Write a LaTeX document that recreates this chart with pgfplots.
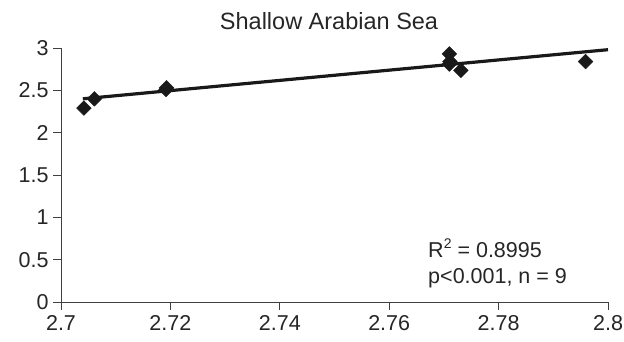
\documentclass[border=0pt]{standalone}
\usepackage{fontspec}
\setmainfont{Liberation Sans}
\usepackage{pgfplots}
\pgfplotsset{compat=1.18}
\begin{document}
\begin{tikzpicture}[x=1bp,y=1bp]
\useasboundingbox (0,0) rectangle (624,341);
\begin{axis}[
  at={(61bp,39bp)}, anchor=south west,
  scale only axis, width=547bp, height=254bp,
  xmin=2.7, xmax=2.8, ymin=0, ymax=3,
  axis lines*=left,
  axis line style={line width=0.9bp, black!75},
  xtick={2.7,2.72,2.74,2.76,2.78,2.8},
  ytick={0,0.5,1,1.5,2,2.5,3},
  tick align=outside,
  major tick length=8bp,
  tick style={black!75, line width=0.9bp},
  tick label style={font=\fontsize{21.5bp}{24bp}\selectfont, text=black!85},
  /pgf/number format/assume math mode=true,
  xticklabel style={/pgf/number format/fixed, /pgf/number format/precision=2, yshift=-2bp},
  yticklabel style={/pgf/number format/fixed, /pgf/number format/precision=1, xshift=-1bp},
  title={Shallow Arabian Sea},
  title style={font=\fontsize{23.5bp}{26bp}\selectfont, text=black!85, at={(0.49,1)}, yshift=9bp},
  clip=false,
]
\addplot[only marks, mark=square*, mark size=5.2bp, mark options={rotate=45, fill=black!90, draw=black!90}, color=black!90]
coordinates {
(2.7042,2.29)
(2.7061,2.40)
(2.7193,2.53)
(2.7192,2.51)
(2.7710,2.93)
(2.7710,2.81)
(2.7711,2.84)
(2.7731,2.735)
(2.7959,2.84)
};
\addplot[no marks, line width=3.2bp, color=black!90]
coordinates {(2.704,2.40) (2.8,2.98)};
\node[anchor=base west, font=\fontsize{21.5bp}{24bp}\selectfont, text=black!85, inner sep=0pt] at (axis cs:2.7671,0.531) {R\raisebox{9bp}{\fontsize{14bp}{14bp}\selectfont 2} = 0.8995};
\node[anchor=base west, font=\fontsize{21.5bp}{24bp}\selectfont, text=black!85, inner sep=0pt] at (axis cs:2.7671,0.224) {p<0.001, n = 9};
\end{axis}
\end{tikzpicture}
\end{document}
